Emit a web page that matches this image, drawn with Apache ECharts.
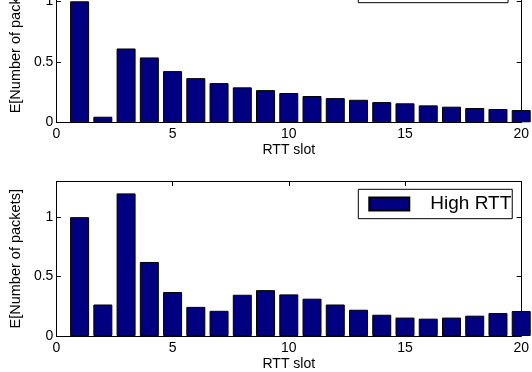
<!DOCTYPE html>
<html>
<head>
<meta charset="utf-8">
<script src="https://cdn.jsdelivr.net/npm/echarts@6/dist/echarts.min.js"></script>
<style>
html,body{margin:0;padding:0;background:#fff;overflow:hidden;}
#wrap{position:relative;width:532px;height:372px;overflow:hidden;}
#c{position:absolute;left:0;top:-40px;width:532px;height:412px;}
</style>
</head>
<body>
<div id="wrap"><div id="c"></div></div>
<script>
var rttSlots = [1,2,3,4,5,6,7,8,9,10,11,12,13,14,15,16,17,18,19,20];
var lowRtt = [1.0, 0.046, 0.61, 0.536, 0.423, 0.365, 0.324, 0.289, 0.266, 0.242, 0.217, 0.2, 0.186, 0.167, 0.157, 0.14, 0.129, 0.118, 0.11, 0.101];
var highRtt = [1.0, 0.265, 1.2, 0.623, 0.37, 0.245, 0.212, 0.347, 0.386, 0.35, 0.314, 0.265, 0.221, 0.179, 0.155, 0.146, 0.155, 0.171, 0.193, 0.21];
var seriesNames = ['Low RTT', 'High RTT'];
var xAxisName = 'RTT slot';
var yAxisName = 'E[Number of packets]';

var FONT = "'Liberation Sans', Arial, sans-serif";
var BAR = '#000080';
var OFF = 40; // the canvas starts 40px above the visible window

function pairs(vals){ return rttSlots.map(function(x,i){ return [x, vals[i]]; }); }

var grids = [
  {left: 52.3, right: 7, top: -35 + OFF, height: 157.3},
  {left: 52.3, right: 7, top: 181.5 + OFF, height: 156.2}
];

var xAxes = [], yAxes = [];
grids.forEach(function(g, gi){
  xAxes.push({
    type: 'value', gridIndex: gi, min: 0, max: 20, interval: 5, position: 'bottom',
    name: xAxisName, nameLocation: 'middle', nameGap: 21,
    nameTextStyle: {fontFamily: FONT, fontSize: 14, color: '#000'},
    axisLine: {show: true, onZero: false, lineStyle: {color: '#000', width: 1}},
    axisTick: {show: true, inside: true, length: 4.5, lineStyle: {color: '#000'}},
    axisLabel: {show: true, margin: 5, fontFamily: FONT, fontSize: 14, color: '#000'},
    splitLine: {show: false}
  });
  xAxes.push({
    type: 'value', gridIndex: gi, min: 0, max: 20, interval: 5, position: 'top',
    axisLine: {show: true, onZero: false, lineStyle: {color: '#000', width: 1}},
    axisTick: {show: true, inside: true, length: 4.5, lineStyle: {color: '#000'}},
    axisLabel: {show: false}, splitLine: {show: false}
  });
  yAxes.push({
    type: 'value', gridIndex: gi, min: 0, max: 1.3, interval: 0.5, position: 'left',
    name: yAxisName, nameLocation: 'middle', nameGap: 24,
    nameTextStyle: {fontFamily: FONT, fontSize: 14.5, color: '#000'},
    axisLine: {show: true, onZero: false, lineStyle: {color: '#000', width: 1}},
    axisTick: {show: true, inside: true, length: 4.5, lineStyle: {color: '#000'}},
    axisLabel: {show: true, margin: 3, showMaxLabel: false, fontFamily: FONT, fontSize: 14, color: '#000'},
    splitLine: {show: false}
  });
  yAxes.push({
    type: 'value', gridIndex: gi, min: 0, max: 1.3, interval: 0.5, position: 'right',
    axisLine: {show: true, onZero: false, lineStyle: {color: '#000', width: 1}},
    axisTick: {show: true, inside: true, length: 4.5, lineStyle: {color: '#000'}},
    axisLabel: {show: false}, splitLine: {show: false}
  });
});

var seriesVals = [lowRtt, highRtt];
var series = seriesVals.map(function(vals, gi){
  return {
    type: 'bar', name: seriesNames[gi], xAxisIndex: gi*2, yAxisIndex: gi*2,
    data: pairs(vals), barWidth: 19, clip: true, silent: true,
    itemStyle: {color: BAR, borderColor: '#000', borderWidth: 1},
    animation: false
  };
});

function legendFor(name, top){
  return {
    data: [name], left: 358.3, top: top, orient: 'horizontal',
    backgroundColor: '#fff', borderColor: '#000', borderWidth: 1, borderRadius: 0,
    padding: [5.2, 1, 5.2, 10], itemWidth: 40, itemHeight: 13, icon: 'rect',
    selectedMode: false,
    textStyle: {fontFamily: FONT, fontSize: 19, color: '#000', padding: [0,0,0,16]}
  };
}

var chart = echarts.init(document.getElementById('c'), null, {renderer: 'canvas'});
chart.setOption({
  animation: false,
  backgroundColor: '#fff',
  grid: grids,
  xAxis: xAxes,
  yAxis: yAxes,
  legend: [legendFor(seriesNames[0], -26.7 + OFF), legendFor(seriesNames[1], 189.3 + OFF)],
  series: series
});
</script>
</body>
</html>
